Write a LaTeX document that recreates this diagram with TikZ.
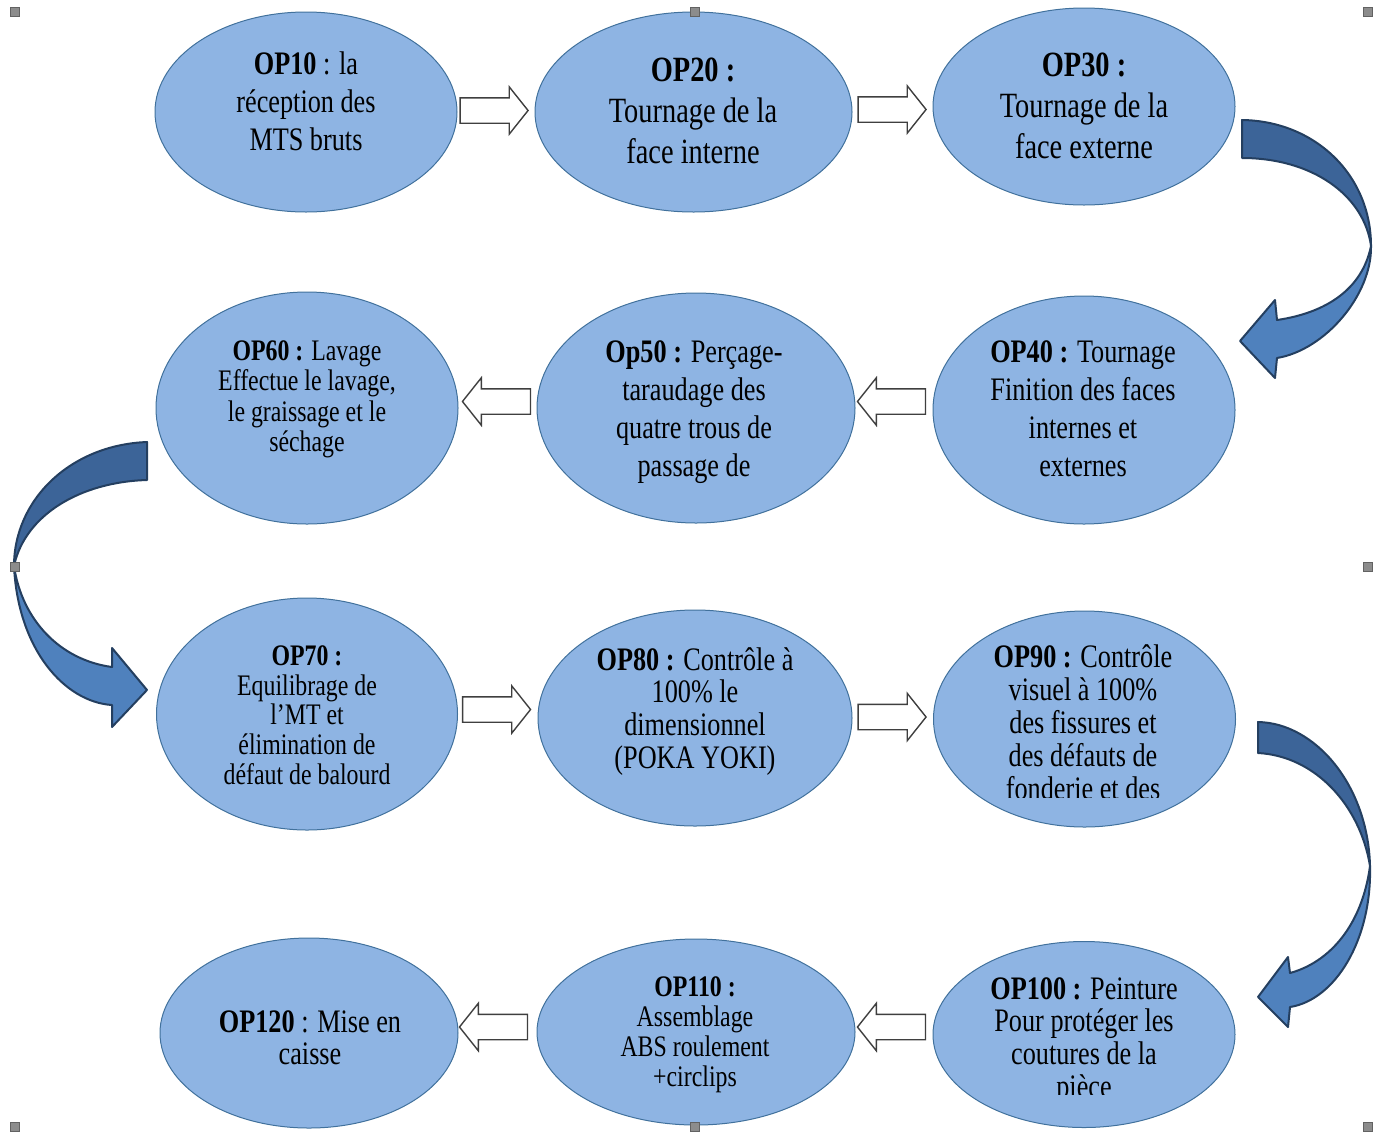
\documentclass[tikz,border=0pt]{standalone}
\usepackage{fontspec}
\usepackage{graphicx}
\setmainfont{Liberation Serif}
\usetikzlibrary{shapes.geometric,shapes.arrows,calc}
\definecolor{ellfill}{HTML}{8EB4E3}
\definecolor{ellline}{HTML}{41719C}
\definecolor{arrline}{HTML}{3F3F3F}
\definecolor{cdark}{HTML}{3C6498}
\definecolor{clight}{HTML}{4F81BD}
\definecolor{cline}{HTML}{243F60}
\definecolor{handlec}{HTML}{8C8C8C}
\newcommand\etxt[1]{\scalebox{0.8}[1]{\begin{tabular}{@{}c@{}}#1\end{tabular}}}
\tikzset{
  opell/.style={ellipse, draw=ellline, fill=ellfill, line width=1pt, inner sep=0pt},
  optxt/.style={inner sep=0pt, text=black},
  fA/.style={font=\fontsize{32.8}{38}\selectfont},
  fB/.style={font=\fontsize{35.5}{41}\selectfont},
  fC/.style={font=\fontsize{29.8}{30.5}\selectfont},
  fD/.style={font=\fontsize{32.8}{32.7}\selectfont},
  fE/.style={font=\fontsize{29.8}{29.7}\selectfont},
  barrow/.style={single arrow, draw=arrline, fill=white, line width=1.4pt,
    minimum height=68, minimum width=46, single arrow head extend=11,
    single arrow tip angle=103, inner xsep=0pt, inner ysep=12pt},
  barrowl/.style={barrow, shape border rotate=180},
  cband/.style={draw=cline, line width=2pt, line join=round},
  handle/.style={fill=handlec, draw=handlec!70!black, line width=0.5pt}
}
\begin{document}
\begin{tikzpicture}[x=1pt,y=-1pt]
\useasboundingbox (0,0) rectangle (1378,1133);

% ellipses
\node[opell, minimum width=302, minimum height=200] (e10) at (306,112) {};
\node[opell, minimum width=317, minimum height=200] (e20) at (693.5,112) {};
\node[opell, minimum width=302, minimum height=197] (e30) at (1084,106.5) {};
\node[opell, minimum width=302, minimum height=228] (e40) at (1084,410) {};
\node[opell, minimum width=318, minimum height=230] (e50) at (696,408) {};
\node[opell, minimum width=302, minimum height=232] (e60) at (307,408) {};
\node[opell, minimum width=301, minimum height=232] (e70) at (307,714) {};
\node[opell, minimum width=314, minimum height=216] (e80) at (695,718) {};
\node[opell, minimum width=302, minimum height=216] (e90) at (1084.5,719) {};
\node[opell, minimum width=302, minimum height=186] (e100) at (1084,1034.5) {};
\node[opell, minimum width=318, minimum height=186] (e110) at (696,1032) {};
\node[opell, minimum width=298, minimum height=190] (e120) at (309,1033) {};

% texts
\node[optxt, fA] (t10) at (306,105) {\etxt{\textbf{OP10} : la\\réception des\\MTS bruts}};
\node[optxt, fB] (t20) at (693,114) {\etxt{\textbf{OP20 :}\\Tournage de la\\face interne}};
\node[optxt, fB] (t30) at (1084,109) {\etxt{\textbf{OP30 :}\\Tournage de la\\face externe}};
\node[optxt, fA] (t40) at (1083,412) {\etxt{\textbf{OP40 :} Tournage\\Finition des faces\\internes et\\externes}};
\node[optxt, fA] (t50) at (694,412) {\etxt{\textbf{Op50 :} Perçage-\\taraudage des\\quatre trous de\\passage de}};
\node[optxt, fC] (t60) at (307,400) {\etxt{\textbf{OP60 :} Lavage\\Effectue le lavage,\\le graissage et le\\séchage}};
\node[optxt, fE] (t70) at (307,719) {\etxt{\textbf{OP70 :}\\Equilibrage de\\l’MT et\\élimination de\\défaut de balourd}};
\node[optxt, fD] (t80) at (695,712.5) {\etxt{\textbf{OP80 :} Contrôle à\\100\% le\\dimensionnel\\(POKA YOKI)}};
\begin{scope}
\clip (900,600) rectangle (1260,797);
\node[optxt, fD] (t90) at (1083,727) {\etxt{\textbf{OP90 :} Contrôle\\visuel à 100\%\\des fissures et\\des défauts de\\fonderie et des}};
\end{scope}
\begin{scope}
\clip (900,930) rectangle (1260,1094);
\node[optxt, fD] (t100) at (1084,1041.5) {\etxt{\textbf{OP100 :} Peinture\\Pour protéger les\\coutures de la\\pièce}};
\end{scope}
\node[optxt, fE] (t110) at (695,1035.5) {\etxt{\textbf{OP110 :}\\Assemblage\\ABS roulement\\+circlips}};
\node[optxt, fD] (t120) at (310,1042) {\etxt{\textbf{OP120} : Mise en\\caisse}};

% straight block arrows
\node[barrow] (a1) at (489,110.5) {};
\node[barrow] (a2) at (887,109.5) {};
\node[barrowl] (a3) at (501.5,401.5) {};
\node[barrowl] (a4) at (896.5,401.5) {};
\node[barrow] (a5) at (491.5,709.5) {};
\node[barrow] (a6) at (887,717) {};
\node[barrowl] (a7) at (498.5,1027) {};
\node[barrowl] (a8) at (896.5,1027) {};

% curved arrow OP30 -> OP40
\filldraw[cband, fill=cdark] (1242,120) .. controls (1315,121) and (1371,175) .. (1371,246)
  .. controls (1364,195) and (1312,158) .. (1242,158) -- cycle;
\filldraw[cband, fill=clight] (1371,246) .. controls (1372,295) and (1325,350) .. (1277,358)
  -- (1275,378) -- (1240,341) -- (1275,300) -- (1277,320)
  .. controls (1325,313) and (1362,290) .. (1371,246) -- cycle;

% curved arrow OP60 -> OP70
\filldraw[cband, fill=cdark] (147,442) .. controls (70,445) and (14,500) .. (14,566)
  .. controls (25,515) and (80,482) .. (147,480) -- cycle;
\filldraw[cband, fill=clight] (14,566) .. controls (18,650) and (65,702) .. (112,705)
  -- (112,727) -- (147,690) -- (112,648) -- (112,667)
  .. controls (60,660) and (22,620) .. (14,566) -- cycle;

% curved arrow OP90 -> OP100
\filldraw[cband, fill=cdark] (1258,722) .. controls (1315,723) and (1368,785) .. (1370,866)
  .. controls (1360,805) and (1315,756) .. (1258,753) -- cycle;
\filldraw[cband, fill=clight] (1370,866) .. controls (1372,940) and (1335,1000) .. (1290,1007)
  -- (1288,1027) -- (1258,997) -- (1288,957) -- (1290,973)
  .. controls (1330,962) and (1362,925) .. (1370,866) -- cycle;

% selection handles
\foreach \hx/\hy in {15/12,695/12,1368/12,15/567,1368/567,15/1127,695/1127,1368/1127}
  \filldraw[handle] (\hx-4.5,\hy-4.5) rectangle (\hx+4.5,\hy+4.5);
\end{tikzpicture}
\end{document}
